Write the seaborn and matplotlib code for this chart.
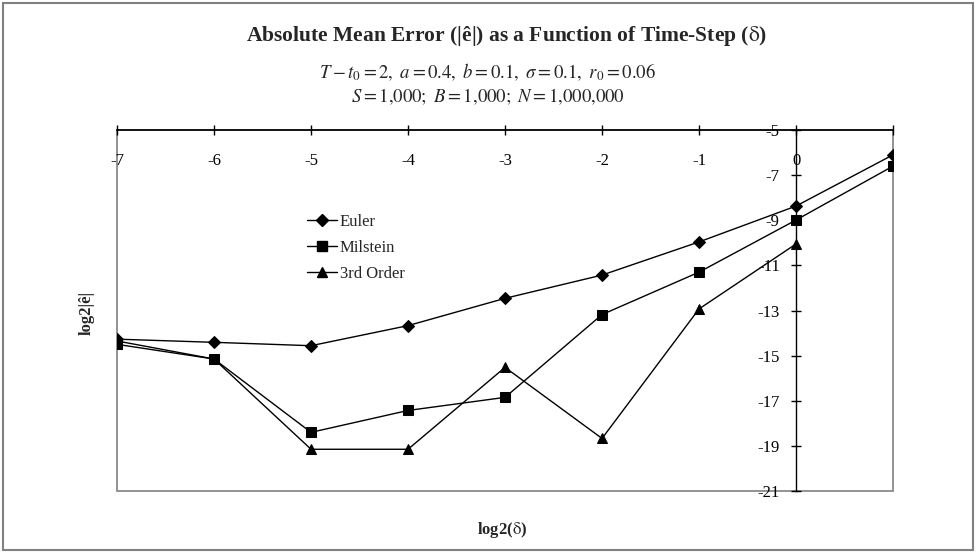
import pandas as pd
import matplotlib.pyplot as plt
import seaborn as sns
from matplotlib.patches import Rectangle
from matplotlib.lines import Line2D

sns.set_theme(style="white")
plt.rcParams["font.family"] = ["Liberation Serif", "DejaVu Serif"]
plt.rcParams["mathtext.fontset"] = "stix"
plt.rcParams["axes.unicode_minus"] = False

# log2(delta) and log2|e|
steps = [-7, -6, -5, -4, -3, -2, -1, 0, 1]
euler = [-14.27, -14.41, -14.56, -13.67, -12.46, -11.43, -9.96, -8.37, -6.1]
milstein = [-14.5, -15.15, -18.4, -17.43, -16.85, -13.18, -11.3, -8.99, -6.6]
third_steps = [-7, -6, -5, -4, -3, -2, -1, 0]
third = [-14.35, -15.15, -19.15, -19.15, -15.52, -18.67, -12.93, -10.05]

x_ticks = [-7, -6, -5, -4, -3, -2, -1, 0, 1]
x_labels = ["-7", "-6", "-5", "-4", "-3", "-2", "-1", "0", ""]
y_ticks = [-5, -7, -9, -11, -13, -15, -17, -19, -21]

fig = plt.figure(figsize=(9.76, 5.53), dpi=100)
ax = fig.add_axes([0.1199, 0.1121, 0.7951, 0.6528])

sns.lineplot(x=steps, y=euler, ax=ax, color="black", lw=1, marker="D",
             markersize=6, markeredgecolor="black")
sns.lineplot(x=steps, y=milstein, ax=ax, color="black", lw=1, marker="s",
             markersize=7, markeredgecolor="black")
sns.lineplot(x=third_steps, y=third, ax=ax, color="black", lw=1, marker="^",
             markersize=7, markeredgecolor="black")

ax.set_xlim(-7, 1)
ax.set_ylim(-21, -5)

# grey frame round the plot area; the y axis sits at x = 0, the x axis on top
for side in ["right", "bottom"]:
    ax.spines[side].set_visible(False)
ax.add_patch(Rectangle((0, 0), 1, 1, transform=ax.transAxes, fill=False,
                       edgecolor="#808080", lw=1.2, zorder=0, clip_on=False))
ax.spines["left"].set_position(("data", 0))
ax.spines["left"].set_color("black")
ax.spines["left"].set_linewidth(1)
ax.spines["top"].set_color("black")
ax.spines["top"].set_linewidth(1.2)

ax.xaxis.set_ticks_position("top")
ax.set_xticks(x_ticks)
ax.set_xticklabels(x_labels)
ax.tick_params(axis="x", direction="inout", length=7.5, width=1, color="black",
               labelsize=12, pad=-32, labelcolor="black")
ax.set_yticks(y_ticks)
ax.tick_params(axis="y", left=True, direction="inout", length=7.5, width=1,
               color="black", labelsize=12, pad=8, labelcolor="black")

ax.set_xlabel("")
ax.set_ylabel("")
fig.text(0.514, 0.042, r"log2($\mathrm{\delta}$)", ha="center", va="center",
         fontsize=12, fontweight="bold")
fig.text(0.089, 0.434, "log2|ê|", ha="center", va="center", fontsize=12,
         fontweight="bold", rotation=90)

fig.text(0.519, 0.935,
         r"Absolute Mean Error (|ê|) as a Function of Time-Step ($\mathrm{\delta}$)",
         ha="center", va="center", fontsize=15.5, fontweight="bold")
fig.text(0.5, 0.87,
         r"$T - t_0 = 2,\ a = 0.4,\ b = 0.1,\ \sigma = 0.1,\ r_0 = 0.06$",
         ha="center", va="center", fontsize=13.5)
fig.text(0.5, 0.825, r"$S = 1{,}000;\ B = 1{,}000;\ N = 1{,}000{,}000$",
         ha="center", va="center", fontsize=13.5)

handles = [
    Line2D([], [], color="black", lw=1, marker="D", markersize=6),
    Line2D([], [], color="black", lw=1, marker="s", markersize=7),
    Line2D([], [], color="black", lw=1, marker="^", markersize=7),
]
ax.legend(handles, ["Euler", "Milstein", "3rd Order"], frameon=False,
          loc="upper left", bbox_to_anchor=(0.225, 0.81), fontsize=12,
          handlelength=1.8, handletextpad=0.2, labelspacing=0.6)

fig.patches.append(Rectangle((0.003, 0.005), 0.994, 0.99, transform=fig.transFigure,
                             fill=False, edgecolor="#808080", lw=1.5))

fig.savefig("out.png", dpi=100)
plt.close(fig)
